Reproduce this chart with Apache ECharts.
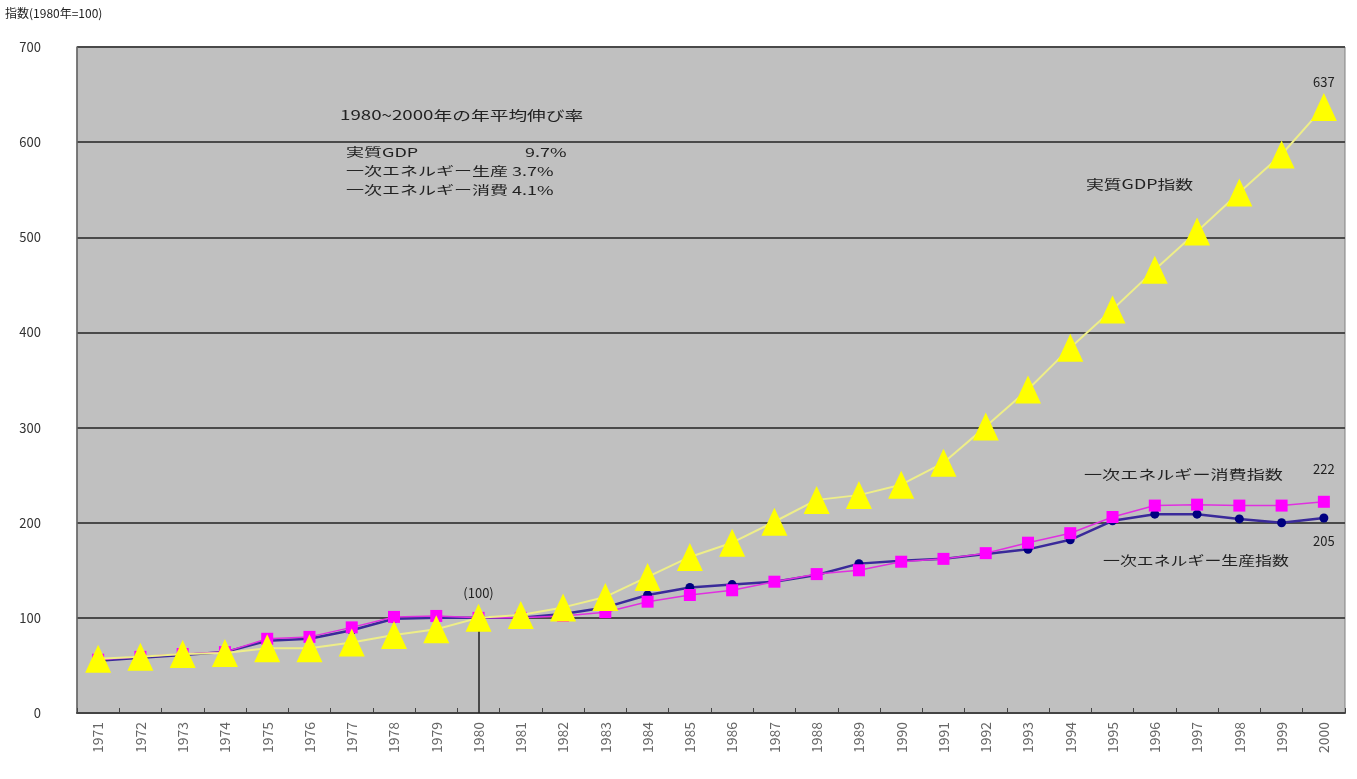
<!DOCTYPE html>
<html>
<head>
<meta charset="utf-8">
<style>
  html, body { margin: 0; padding: 0; background: #ffffff; }
  #chart { width: 1357px; height: 779px; }
</style>
<script src="https://cdn.jsdelivr.net/npm/echarts@6/dist/echarts.min.js"></script>
</head>
<body>
<div id="chart"></div>
<script>
// 年次（1971〜2000）
const years = ['1971','1972','1973','1974','1975','1976','1977','1978','1979','1980',
  '1981','1982','1983','1984','1985','1986','1987','1988','1989','1990',
  '1991','1992','1993','1994','1995','1996','1997','1998','1999','2000'];

// 実質GDP指数（1980年=100）
const gdpIndex = [57, 59, 62, 63, 68, 68, 74, 82, 88, 100,
  103, 111, 122, 143, 164, 179, 201, 224, 229, 240,
  263, 301, 340, 384, 424, 466, 506, 547, 587, 637];

// 一次エネルギー消費指数
const consumptionIndex = [56, 59, 62, 64, 78, 80, 90, 101, 102, 100,
  100, 102, 106, 117, 124, 129, 138, 146, 150, 159,
  162, 168, 179, 189, 206, 218, 219, 218, 218, 222];

// 一次エネルギー生産指数
const productionIndex = [55, 58, 61, 64, 76, 78, 87, 99, 100, 100,
  100, 104, 111, 124, 132, 135, 138, 145, 157, 160,
  162, 167, 172, 182, 202, 209, 209, 204, 200, 205];

// 縦軸目盛
const yTicks = [0, 100, 200, 300, 400, 500, 600, 700];

const baseYear = '1980';
const baseIdx = years.indexOf(baseYear);
const lastIdx = years.length - 1;

const font = '"Noto Sans CJK JP", "Noto Sans", sans-serif';
const textColor = '#222';

function labelled(values, idx, label) {
  return values.map((v, i) => i === idx ? { value: v, label: label } : v);
}

// 横に引き伸ばした注記テキスト
function note(text, left, top, size, sx) {
  return {
    type: 'text', left: left, top: top, scaleX: sx,
    style: { text: text, font: size + 'px ' + font, fill: textColor }
  };
}

const chart = echarts.init(document.getElementById('chart'), null, { renderer: 'canvas' });

chart.setOption({
  animation: false,
  backgroundColor: '#ffffff',
  textStyle: { fontFamily: font },
  grid: {
    left: 77, right: 12, top: 47, bottom: 66,
    show: true, backgroundColor: '#c0c0c0', borderColor: '#808080', borderWidth: 1
  },
  xAxis: {
    type: 'category',
    data: years,
    boundaryGap: true,
    axisLine: { lineStyle: { color: '#444', width: 2 } },
    axisTick: { show: true, alignWithLabel: false, length: 5, inside: true, lineStyle: { color: '#444' } },
    axisLabel: {
      rotate: 90, interval: 0, margin: 9,
      color: '#666', fontSize: 14, fontFamily: font
    },
    splitLine: { show: false }
  },
  yAxis: {
    type: 'value',
    min: yTicks[0],
    max: yTicks[yTicks.length - 1],
    interval: 100,
    name: '指数(1980年=100)',
    nameLocation: 'end',
    nameGap: 28,
    nameTextStyle: { align: 'left', padding: [0, 0, 0, -72], color: textColor, fontSize: 12, fontFamily: font },
    axisLine: { show: true, lineStyle: { color: '#666', width: 1.5 } },
    axisTick: { show: false },
    axisLabel: { color: '#333', fontSize: 13, margin: 36, align: 'right', fontFamily: font },
    splitLine: { show: true, lineStyle: { color: '#4a4a4a', width: 2 } }
  },
  series: [
    {
      name: '一次エネルギー生産指数',
      type: 'line',
      data: labelled(productionIndex, lastIdx, {
        show: true, position: 'bottom', distance: 12,
        formatter: '{c}', color: textColor, fontSize: 13, fontFamily: font
      }),
      symbol: 'circle',
      symbolSize: 9,
      itemStyle: { color: '#000080' },
      lineStyle: { color: '#3a2a9a', width: 2.5 },
      z: 3
    },
    {
      name: '一次エネルギー消費指数',
      type: 'line',
      data: labelled(consumptionIndex, lastIdx, {
        show: true, position: 'top', distance: 20,
        formatter: '{c}', color: textColor, fontSize: 13, fontFamily: font
      }),
      symbol: 'rect',
      symbolSize: 12,
      itemStyle: { color: '#ff00ff' },
      lineStyle: { color: '#e030e0', width: 1.5 },
      z: 4
    },
    {
      name: '実質GDP指数',
      type: 'line',
      data: gdpIndex.map((v, i) => {
        if (i === baseIdx) {
          return { value: v, label: { show: true, position: 'top', distance: 4, formatter: '({c})', color: textColor, fontSize: 13, fontFamily: font } };
        }
        if (i === lastIdx) {
          return { value: v, label: { show: true, position: 'top', distance: 4, formatter: '{c}', color: textColor, fontSize: 13, fontFamily: font } };
        }
        return v;
      }),
      symbol: 'triangle',
      symbolSize: [26, 28],
      itemStyle: { color: '#ffff00' },
      lineStyle: { color: '#eeee88', width: 2 },
      markLine: {
        silent: true,
        symbol: ['none', 'none'],
        label: { show: false },
        lineStyle: { color: '#222', width: 1.5, type: 'solid' },
        data: [[
          { coord: [baseYear, gdpIndex[baseIdx]] },
          { coord: [baseYear, yTicks[0]] }
        ]]
      },
      z: 5
    }
  ],
  graphic: [
    note('1980~2000年の年平均伸び率', 340, 109, 13, 1.44),
    note('実質GDP', 346, 146, 12, 1.5),
    note('9.7%', 525, 146, 12, 1.5),
    note('一次エネルギー生産 3.7%', 346, 165, 12, 1.5),
    note('一次エネルギー消費 4.1%', 346, 184, 12, 1.5),
    note('実質GDP指数', 1086, 178, 13, 1.37),
    note('一次エネルギー消費指数', 1084, 468, 13, 1.39),
    note('一次エネルギー生産指数', 1103, 554, 13, 1.3)
  ]
});
</script>
</body>
</html>
